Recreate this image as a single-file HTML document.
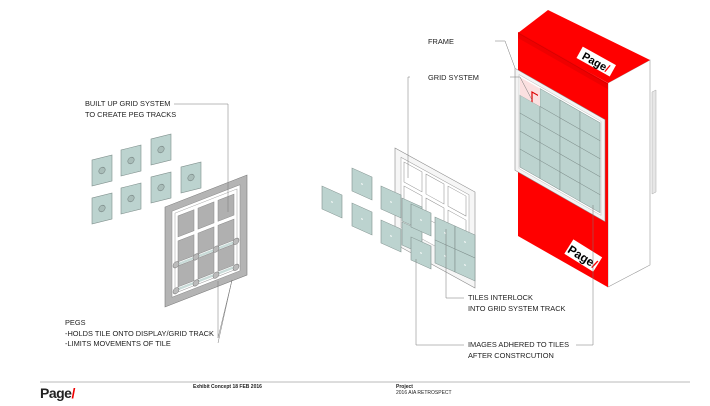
<!DOCTYPE html>
<html><head><meta charset="utf-8"><style>
html,body{margin:0;padding:0;background:#fff;}
svg{display:block;font-family:"Liberation Sans",Arial,sans-serif;}
</style></head><body>
<svg width="710" height="406" viewBox="0 0 710 406" xmlns="http://www.w3.org/2000/svg">
<defs>
<g id="lt"><rect x="0" y="0" width="20" height="26" fill="#bcd3cf" stroke="#7f8f8c" stroke-width="0.6"/><circle cx="10" cy="13" r="3.2" fill="#a9bdb9" stroke="#6f7c7a" stroke-width="0.5"/></g>
<g id="mt"><rect x="0" y="0" width="20" height="23" fill="#bcd3cf" stroke="#7f8f8c" stroke-width="0.6"/><circle cx="10" cy="11.5" r="0.8" fill="#fff"/></g>
</defs>

<g transform="matrix(1,-0.25,0,1,92,160)"><use href="#lt"/></g>
<g transform="matrix(1,-0.25,0,1,121,150)"><use href="#lt"/></g>
<g transform="matrix(1,-0.25,0,1,151,139)"><use href="#lt"/></g>
<g transform="matrix(1,-0.25,0,1,92,198)"><use href="#lt"/></g>
<g transform="matrix(1,-0.25,0,1,121,188)"><use href="#lt"/></g>
<g transform="matrix(1,-0.25,0,1,151,177)"><use href="#lt"/></g>
<g transform="matrix(1,-0.25,0,1,181,167)"><use href="#lt"/></g>

<g transform="matrix(1,-0.39,0,1,165,207)">
<rect x="0" y="0" width="82" height="100" fill="#b4b4b4" stroke="#777" stroke-width="0.6"/>
<rect x="7" y="7" width="68" height="86" fill="#fff" stroke="#888" stroke-width="0.5"/>
<rect x="10" y="10" width="62" height="80" fill="none" stroke="#999" stroke-width="0.5"/>
<g fill="#b0b0b0" stroke="#888" stroke-width="0.5">
<rect x="13" y="14" width="16" height="21"/><rect x="33" y="14" width="16" height="21"/><rect x="53" y="14" width="16" height="21"/>
<rect x="13" y="39" width="16" height="21"/><rect x="33" y="39" width="16" height="21"/><rect x="53" y="39" width="16" height="21"/>
<rect x="13" y="64" width="16" height="21"/><rect x="33" y="64" width="16" height="21"/><rect x="53" y="64" width="16" height="21"/>
</g>
<g fill="#bcd3cf" opacity="0.8"><rect x="10" y="61" width="62" height="2.5"/><rect x="10" y="86" width="62" height="2.5"/></g>
<g fill="#bbb" stroke="#777" stroke-width="0.5">
<circle cx="11" cy="62" r="3"/><circle cx="31" cy="62" r="3"/><circle cx="51" cy="62" r="3"/><circle cx="71" cy="62" r="3"/>
<circle cx="11" cy="88" r="3"/><circle cx="31" cy="88" r="3"/><circle cx="51" cy="88" r="3"/><circle cx="71" cy="88" r="3"/>
</g>
</g>

<g transform="matrix(1,0.55,0,1,395,148)">
<rect x="0" y="0" width="80" height="96" fill="#f6f6f6" stroke="#888" stroke-width="0.6"/>
<rect x="6" y="6" width="68" height="70" fill="#fff" stroke="#999" stroke-width="0.5"/>
<g fill="#fff" stroke="#888" stroke-width="0.5">
<rect x="9" y="9" width="18" height="20"/><rect x="31" y="9" width="18" height="20"/><rect x="53" y="9" width="18" height="20"/>
<rect x="9" y="33" width="18" height="20"/><rect x="31" y="33" width="18" height="20"/><rect x="53" y="33" width="18" height="20"/>
</g>
</g>
<g transform="matrix(1,0.45,0,1,435,217)"><use href="#mt"/></g>
<g transform="matrix(1,0.45,0,1,455,226)"><use href="#mt"/></g>
<g transform="matrix(1,0.45,0,1,435,240)"><use href="#mt"/></g>
<g transform="matrix(1,0.45,0,1,455,249)"><use href="#mt"/></g>
<g transform="matrix(1,0.45,0,1,402,198)"><use href="#mt"/></g>
<g transform="matrix(1,0.45,0,1,402,222)"><use href="#mt"/></g>
<g transform="matrix(1,0.45,0,1,411,204)"><use href="#mt"/></g>
<g transform="matrix(1,0.45,0,1,411,237)"><use href="#mt"/></g>
<g transform="matrix(1,0.45,0,1,381,186)"><use href="#mt"/></g>
<g transform="matrix(1,0.45,0,1,381,220)"><use href="#mt"/></g>
<g transform="matrix(1,0.45,0,1,352,168)"><use href="#mt"/></g>
<g transform="matrix(1,0.45,0,1,352,203)"><use href="#mt"/></g>
<g transform="matrix(1,0.45,0,1,322,186)"><use href="#mt"/></g>

<polygon points="652,92 656,90 656,192 652,194" fill="#e6e6e6" stroke="#aaa" stroke-width="0.5"/>
<polygon points="608,83 650,60 650,265 608,287" fill="#fff" stroke="#999" stroke-width="0.6"/>
<polygon points="518,33 548,10 650,60 608,83" fill="#f00"/>
<g transform="matrix(1,0.57,0,1,518,32)">
<rect x="0" y="0" width="90" height="204" fill="#f00"/>
<rect x="0" y="0" width="90" height="6" fill="#e00"/>
<line x1="0" y1="1" x2="90" y2="1" stroke="#c00" stroke-width="0.6"/>
<rect x="-3" y="38" width="90" height="102" fill="#f4f4f4" stroke="#888" stroke-width="0.6"/>
<rect x="1" y="42" width="82" height="94" fill="#fff" stroke="#aaa" stroke-width="0.4"/>
<g fill="#bcd3cf" stroke="#7f8f8c" stroke-width="0.5">
<rect x="22" y="44" width="20" height="18"/><rect x="42" y="44" width="20" height="18"/><rect x="62" y="44" width="20" height="18"/>
<rect x="2" y="62" width="20" height="18"/><rect x="22" y="62" width="20" height="18"/><rect x="42" y="62" width="20" height="18"/><rect x="62" y="62" width="20" height="18"/>
<rect x="2" y="80" width="20" height="18"/><rect x="22" y="80" width="20" height="18"/><rect x="42" y="80" width="20" height="18"/><rect x="62" y="80" width="20" height="18"/>
<rect x="2" y="98" width="20" height="18"/><rect x="22" y="98" width="20" height="18"/><rect x="42" y="98" width="20" height="18"/><rect x="62" y="98" width="20" height="18"/>
<rect x="2" y="116" width="20" height="18"/><rect x="22" y="116" width="20" height="18"/><rect x="42" y="116" width="20" height="18"/><rect x="62" y="116" width="20" height="18"/>
</g>
<rect x="2" y="44" width="20" height="18" fill="#fbe0e0"/>
<path d="M14 62 V52 H20" fill="none" stroke="#d00" stroke-width="1.2"/>
</g>
<g transform="translate(596,62) rotate(29)"><rect x="-19" y="-7" width="38" height="13" fill="#fff"/><text x="0" y="4" text-anchor="middle" font-size="11" font-weight="bold" fill="#000">Page<tspan fill="#f00">/</tspan></text></g>
<g transform="translate(583,256) rotate(32)"><rect x="-17" y="-9" width="34" height="17" fill="#fff"/><text x="0" y="5" text-anchor="middle" font-size="12" font-weight="bold" fill="#000">Page<tspan fill="#f00">/</tspan></text></g>

<g fill="none" stroke="#777" stroke-width="0.5">
<polyline points="174,104 228,104 228,212"/>
<polyline points="218,338 218,281"/><polyline points="218,338 232,280"/><polyline points="218,343 232,280"/>
<polyline points="495,41 505,41 515,68"/>
<polyline points="410,77 408,77 408,178"/>
<polyline points="510,77 520,77 532,100"/>
<polyline points="464,298 446,298 446,229"/>
<polyline points="464,345 416,345 416,259"/>
<polyline points="576,345 593,345 593,205"/>
<line x1="40" y1="382" x2="690" y2="382"/>
</g>

<g font-size="7.4" fill="#222">
<text x="85" y="106">BUILT UP GRID SYSTEM</text>
<text x="85" y="117">TO CREATE PEG TRACKS</text>
<text x="65" y="325">PEGS</text>
<text x="65" y="336">-HOLDS TILE ONTO DISPLAY/GRID TRACK</text>
<text x="65" y="346">-LIMITS MOVEMENTS OF TILE</text>
<text x="428" y="44">FRAME</text>
<text x="428" y="80">GRID SYSTEM</text>
<text x="468" y="300">TILES INTERLOCK</text>
<text x="468" y="311">INTO GRID SYSTEM TRACK</text>
<text x="468" y="347">IMAGES ADHERED TO TILES</text>
<text x="468" y="358">AFTER CONSTRCUTION</text>
</g>

<text x="40" y="398" font-size="14" font-weight="bold" fill="#222" letter-spacing="-0.5">Page<tspan fill="#e00">/</tspan></text>
<text x="193" y="388" font-size="5" font-weight="bold" fill="#222">Exhibit Concept  18 FEB 2016</text>
<text x="396" y="388" font-size="5" font-weight="bold" fill="#222">Project</text>
<text x="396" y="394" font-size="5" fill="#222">2016 AIA RETROSPECT</text>
</svg>
</body></html>
